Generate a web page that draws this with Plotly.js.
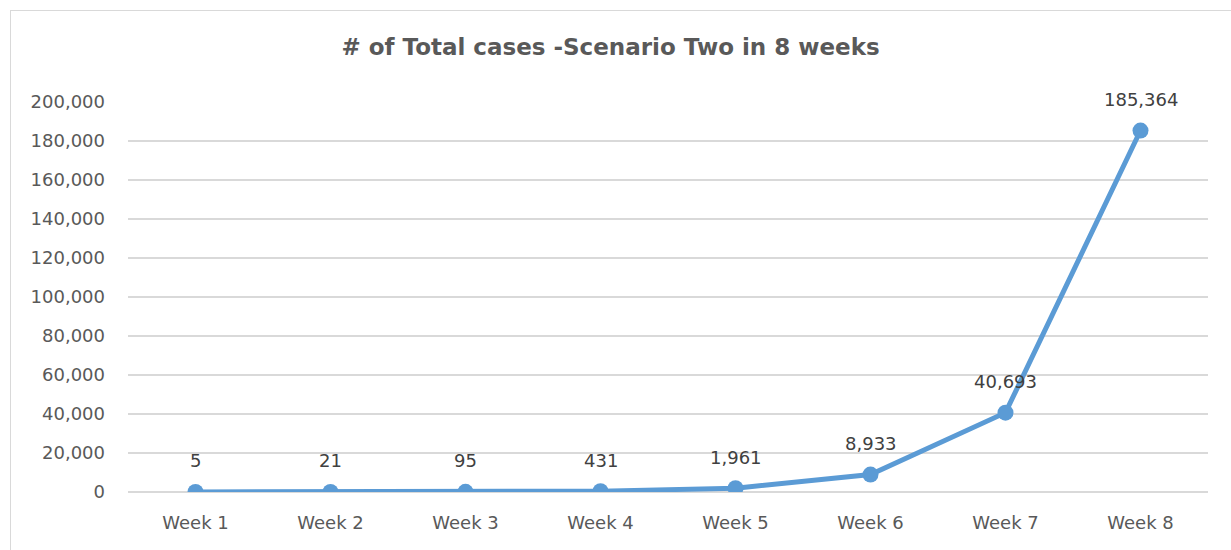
<!DOCTYPE html>
<html><head><meta charset="utf-8">
<script src="https://cdn.plot.ly/plotly-3.0.1.min.js"></script>
<style>
html,body{margin:0;padding:0;background:#fff;}
#wrap{position:relative;width:1231px;height:550px;overflow:hidden;}
#chart{position:absolute;left:0;top:0;width:1231px;height:550px;}
#frame{position:absolute;left:10px;top:10px;width:1240px;height:560px;border:1px solid #d9d9d9;pointer-events:none;}
</style></head>
<body>
<div id="wrap"><div id="chart"></div><div id="frame"></div></div>
<script>
const weeks = ["Week 1","Week 2","Week 3","Week 4","Week 5","Week 6","Week 7","Week 8"];
const totalCases = [5, 21, 95, 431, 1961, 8933, 40693, 185364];
const yTicks = [0,20000,40000,60000,80000,100000,120000,140000,160000,180000,200000];

const fontFam = "'DejaVu Sans', sans-serif";
const trace = {
  x: weeks, y: totalCases, type: "scatter", mode: "lines+markers",
  line: {color: "#5B9BD5", width: 5},
  marker: {color: "#5B9BD5", size: 16},
  hoverinfo: "skip"
};
const annotations = weeks.map((w,i)=>({
  x: w, y: totalCases[i], xref:"x", yref:"y",
  text: totalCases[i].toLocaleString("en-US"),
  showarrow:false, yshift:31,
  font:{family:fontFam, size:18, color:"#404040"}
}));
const layout = {
  width:1231, height:550,
  margin:{l:128, r:23, t:102, b:58},
  paper_bgcolor:"#fff", plot_bgcolor:"#fff",
  showlegend:false,
  title:{text:"# of Total cases -Scenario Two in 8 weeks", x:0.496, xanchor:"center", y:0.915, yanchor:"middle",
    font:{family:fontFam, size:23, color:"#595959", weight:"bold"}},
  xaxis:{type:"category", range:[-0.5,7.5], autorange:false, showgrid:false, zeroline:false, showline:false, ticks:"",
    tickfont:{family:fontFam, size:18, color:"#595959"}, ticklabelstandoff:18},
  yaxis:{range:[0,200000], tickvals:yTicks, ticktext:yTicks.map(v=>v.toLocaleString("en-US")),
    showgrid:true, gridcolor:"#d9d9d9", gridwidth:1.5, zeroline:true, zerolinecolor:"#d9d9d9", zerolinewidth:1.5,
    showline:false, ticks:"", tickfont:{family:fontFam, size:18, color:"#595959"}, ticklabelstandoff:22},
  annotations: annotations
};
Plotly.newPlot("chart",[trace],layout,{displayModeBar:false,staticPlot:true});
</script>
</body></html>
